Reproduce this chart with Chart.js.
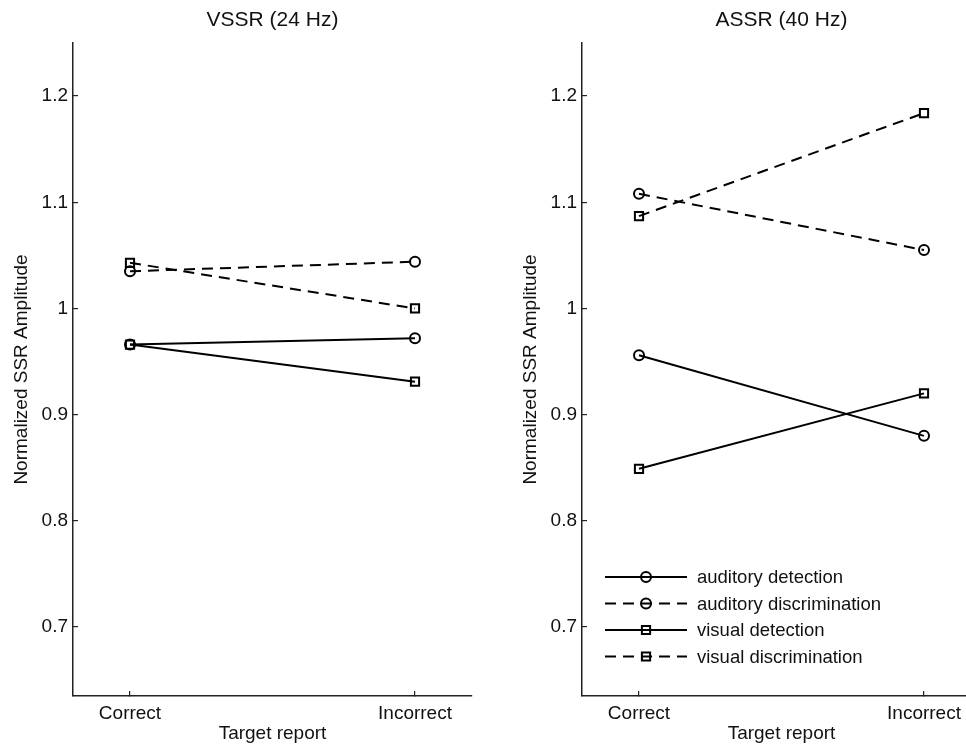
<!DOCTYPE html>
<html>
<head>
<meta charset="utf-8">
<title>SSR amplitude by target report</title>
<script src="https://cdn.jsdelivr.net/npm/chart.js@4/dist/chart.umd.min.js"></script>
<style>
  html, body { margin: 0; padding: 0; background: #fff; width: 966px; height: 745px; overflow: hidden; }
  .panel { position: absolute; top: 0; }
</style>
</head>
<body>
<div class="panel" style="left:0px"><canvas id="vssrChart" width="490" height="745"></canvas></div>
<div class="panel" style="left:509px"><canvas id="assrChart" width="490" height="745"></canvas></div>

<script>
// x categories and y tick values
const categories = ["Correct", "Incorrect"];
const yTicks = [0.7, 0.8, 0.9, 1.0, 1.1, 1.2];
const seriesNames = ["auditory detection", "auditory discrimination", "visual detection", "visual discrimination"];

// VSSR (24 Hz) panel
const vssrAudDet = [0.966, 0.972];
const vssrAudDis = [1.035, 1.044];
const vssrVisDet = [0.966, 0.931];
const vssrVisDis = [1.043, 1.000];

// ASSR (40 Hz) panel
const assrAudDet = [0.956, 0.880];
const assrAudDis = [1.108, 1.055];
const assrVisDet = [0.849, 0.920];
const assrVisDis = [1.087, 1.184];

const FONT = '"Liberation Sans", Arial, Helvetica, sans-serif';
const TEXT = "#111";
const AXIS = "#222";
const DASH = [11, 7];

// how each series is drawn: dashed or not, marker style
const seriesStyle = [
  { dash: [], marker: "circle", r: 5 },
  { dash: DASH, marker: "circle", r: 5 },
  { dash: [], marker: "rect", r: 5.8 },
  { dash: DASH, marker: "rect", r: 5.8 }
];

function makeDatasets(seriesValues) {
  return seriesValues.map((vals, i) => ({
    label: seriesNames[i],
    data: vals.map((v, j) => ({ x: j + 1, y: v })),
    borderColor: "#000",
    borderWidth: 2,
    borderDash: seriesStyle[i].dash,
    pointStyle: seriesStyle[i].marker,
    pointRadius: seriesStyle[i].r,
    pointHoverRadius: seriesStyle[i].r,
    pointBorderWidth: 2,
    pointBorderColor: "#000",
    pointBackgroundColor: "rgba(0,0,0,0)",
    tension: 0
  }));
}

// title centred over the plot area (like matlab does)
const panelTitle = {
  id: "panelTitle",
  afterDraw(chart, args, opts) {
    const { ctx, chartArea } = chart;
    ctx.save();
    ctx.font = "21px " + FONT;
    ctx.fillStyle = TEXT;
    ctx.textAlign = "center";
    ctx.textBaseline = "middle";
    ctx.fillText(opts.text, (chartArea.left + chartArea.right) / 2, 20);
    ctx.restore();
  }
};

// matlab style legend: line sample with marker in the middle
const lineLegend = {
  id: "lineLegend",
  afterDraw(chart, args, opts) {
    if (!opts.show) return;
    const { ctx, chartArea } = chart;
    const x0 = chartArea.left + 23, x1 = chartArea.left + 105;
    const xm = (x0 + x1) / 2;
    chart.data.datasets.forEach((ds, i) => {
      const y = 577 + i * 26.5;
      ctx.save();
      ctx.strokeStyle = "#000";
      ctx.lineWidth = 2;
      ctx.setLineDash(ds.borderDash);
      ctx.beginPath();
      ctx.moveTo(x0, y);
      ctx.lineTo(x1, y);
      ctx.stroke();
      ctx.setLineDash([]);
      ctx.lineWidth = ds.pointBorderWidth;
      ctx.fillStyle = "rgba(0,0,0,0)";
      Chart.helpers.drawPoint(ctx, { pointStyle: ds.pointStyle, radius: ds.pointRadius, rotation: 0, borderWidth: ds.pointBorderWidth }, xm, y);
      ctx.font = "18.5px " + FONT;
      ctx.fillStyle = TEXT;
      ctx.textAlign = "left";
      ctx.textBaseline = "middle";
      ctx.fillText(ds.label, x1 + 10, y + 1);
      ctx.restore();
    });
  }
};

function makePanel(canvasId, title, seriesValues, showLegend) {
  return new Chart(document.getElementById(canvasId), {
    type: "line",
    data: { datasets: makeDatasets(seriesValues) },
    plugins: [panelTitle, lineLegend],
    options: {
      responsive: false,
      animation: false,
      layout: { padding: { top: 43, right: 18, left: 0, bottom: 0 } },
      plugins: {
        legend: { display: false },
        tooltip: { enabled: false },
        panelTitle: { text: title },
        lineLegend: { show: showLegend }
      },
      scales: {
        x: {
          type: "linear",
          min: 0.8,
          max: 2.2,
          afterBuildTicks: s => { s.ticks = categories.map((c, i) => ({ value: i + 1 })); },
          afterFit: s => { s.height = 49; },
          ticks: {
            callback: (v, i) => categories[i],
            font: { family: FONT, size: 19 },
            color: TEXT,
            padding: 11,
            maxRotation: 0,
            autoSkip: false
          },
          grid: { drawOnChartArea: false, tickLength: -5, color: AXIS, lineWidth: 1.2 },
          border: { color: AXIS, width: 1.5 },
          title: { display: true, text: "Target report", font: { family: FONT, size: 19 }, color: TEXT, padding: { top: 0, bottom: 0 } }
        },
        y: {
          min: 0.635,
          max: 1.25,
          afterBuildTicks: s => { s.ticks = yTicks.map(v => ({ value: v })); },
          afterFit: s => { s.width = 73; },
          ticks: {
            callback: v => (v === 1 ? "1" : v.toFixed(1)),
            font: { family: FONT, size: 19 },
            color: TEXT,
            padding: 10
          },
          grid: { drawOnChartArea: false, tickLength: -5, color: AXIS, lineWidth: 1.2 },
          border: { color: AXIS, width: 1.5 },
          title: { display: true, text: "Normalized SSR Amplitude", font: { family: FONT, size: 19 }, color: TEXT, padding: { top: 10, bottom: 0 } }
        }
      }
    }
  });
}

makePanel("vssrChart", "VSSR (24 Hz)", [vssrAudDet, vssrAudDis, vssrVisDet, vssrVisDis], false);
makePanel("assrChart", "ASSR (40 Hz)", [assrAudDet, assrAudDis, assrVisDet, assrVisDis], true);
</script>
</body>
</html>
